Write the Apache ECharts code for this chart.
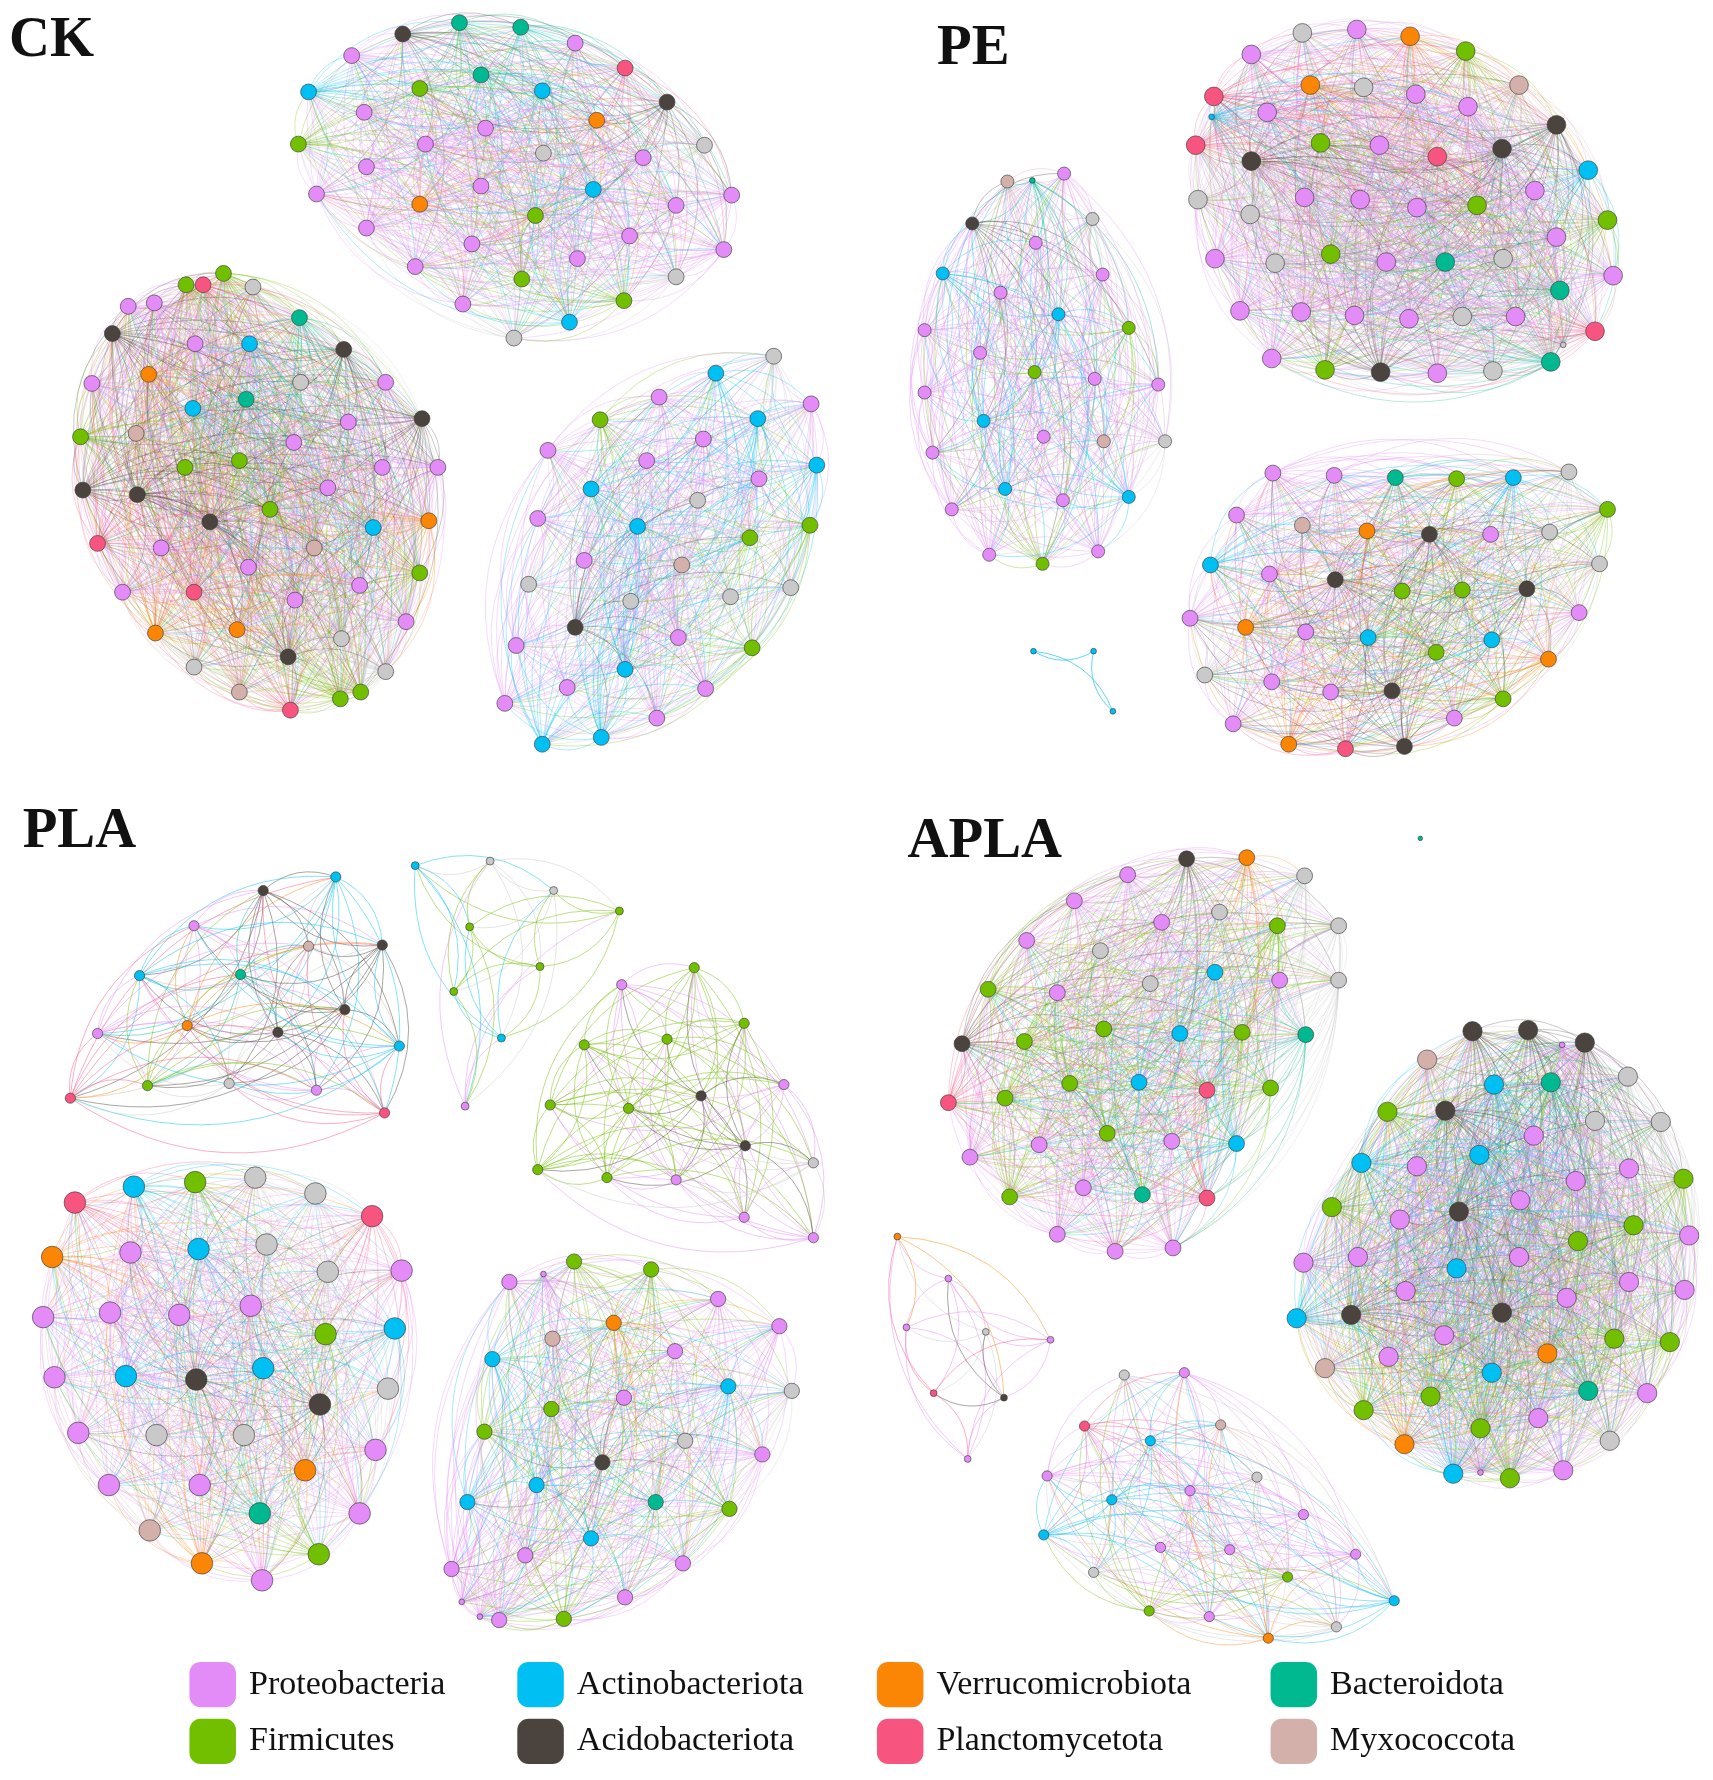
<!DOCTYPE html>
<html><head><meta charset="utf-8">
<script src="https://cdn.jsdelivr.net/npm/echarts@6/dist/echarts.min.js"></script>
<style>html,body{margin:0;padding:0;background:#fff}#c{width:1713px;height:1780px}</style>
</head><body><div id="c"></div><script>
// Phylum categories and legend
const phyla = ['Proteobacteria','Actinobacteriota','Verrucomicrobiota','Bacteroidota','Firmicutes','Acidobacteriota','Planctomycetota','Myxococcota','Other'];
const phylumCodes = ['P','A','V','B','F','D','L','M','G'];
const phylumColors = ['#e38bf7','#00bff3','#fb8505','#00b990','#72bf00','#4b443e','#f7547f','#d3b0aa','#c9c9c9'];
const panelLabels = ['CK','PE','PLA','APLA'];
const legendColumns = [['Proteobacteria','Firmicutes'],['Actinobacteriota','Acidobacteriota'],['Verrucomicrobiota','Planctomycetota'],['Bacteroidota','Myxococcota']];

// Node layouts (x, y in reference figure units, phylum code, optional 's' = minor node)
const ckTop = [[355,30,'D'],[405,20,'B'],[459,24,'B'],[507,38,'P'],[551,60,'L'],[310,49,'P'],[272,81,'A'],[370,78,'F'],[424,66,'B'],[478,80,'A'],[588,90,'D'],[321,99,'P'],[526,106,'V'],[263,127,'F'],[375,127,'P'],[428,113,'P'],[479,135,'G'],[621,128,'G'],[567,139,'P'],[323,147,'P'],[279,171,'P'],[424,164,'P'],[523,167,'A'],[370,180,'V'],[645,172,'P'],[596,181,'P'],[472,190,'F'],[323,201,'P'],[416,215,'P'],[555,208,'P'],[638,220,'P'],[509,228,'P'],[366,235,'P'],[460,246,'F'],[596,244,'G'],[408,268,'P'],[550,265,'F'],[502,284,'A'],[453,298,'G']];
const ckLeft = [[197,241,'F'],[164,251,'F'],[179,251,'L'],[223,253,'G'],[113,270,'P'],[136,267,'P'],[264,280,'B'],[99,294,'D'],[172,303,'P'],[220,303,'A'],[303,308,'D'],[131,330,'V'],[265,337,'G'],[81,338,'P'],[340,337,'P'],[217,352,'B'],[170,360,'A'],[372,369,'D'],[307,372,'P'],[120,382,'M'],[71,385,'F'],[259,390,'P'],[211,406,'F'],[163,412,'F'],[337,412,'P'],[386,412,'P'],[289,430,'P'],[73,432,'D'],[121,436,'D'],[238,449,'F'],[185,460,'D'],[329,465,'A'],[378,459,'V'],[86,479,'L'],[142,483,'P'],[277,483,'M'],[219,500,'P'],[370,505,'F'],[108,522,'P'],[171,522,'L'],[317,516,'P'],[260,529,'P'],[358,548,'P'],[137,558,'V'],[209,555,'V'],[301,563,'G'],[254,579,'D'],[171,588,'G'],[340,592,'G'],[211,610,'M'],[300,616,'F'],[318,610,'F'],[256,626,'L']];
const ckRight = [[682,314,'G'],[631,329,'A'],[581,350,'P'],[715,356,'P'],[668,369,'A'],[529,370,'F'],[620,387,'P'],[483,397,'P'],[570,406,'P'],[720,410,'A'],[669,422,'P'],[521,431,'A'],[615,441,'G'],[474,457,'P'],[562,464,'A'],[714,463,'F'],[661,474,'F'],[515,494,'P'],[601,498,'M'],[466,515,'G'],[556,530,'G'],[644,526,'G'],[697,518,'G'],[507,553,'D'],[455,569,'P'],[598,562,'P'],[663,571,'F'],[551,590,'A'],[500,606,'P'],[622,607,'P'],[445,620,'P'],[579,633,'P'],[478,656,'A'],[530,650,'A']];
const peLeft = [[888,160,'M'],[910,159,'B','s'],[938,153,'P'],[857,197,'D'],[963,193,'G'],[913,214,'P'],[831,241,'A'],[972,242,'P'],[882,258,'P'],[933,277,'A'],[815,291,'P'],[995,289,'F'],[864,311,'P'],[912,328,'F'],[965,334,'P'],[1021,339,'P'],[815,346,'P'],[867,371,'A'],[920,385,'P'],[973,389,'M'],[1027,389,'G'],[822,399,'P'],[886,431,'A'],[937,441,'P'],[995,438,'A'],[839,449,'P'],[872,489,'P'],[919,497,'F'],[968,486,'P']];
const peTiny = [[911,574,'A','s'],[964,574,'A','s'],[981,627,'A','s']];
const peTopRight = [[1148,29,'G'],[1196,26,'P'],[1243,32,'V'],[1292,45,'F'],[1103,48,'P'],[1155,75,'V'],[1202,77,'G'],[1248,83,'P'],[1339,75,'M'],[1070,85,'L'],[1117,99,'P'],[1294,94,'P'],[1068,103,'A','s'],[1372,110,'D'],[1054,128,'L'],[1164,126,'F'],[1216,128,'P'],[1267,138,'L'],[1324,131,'D'],[1103,142,'D'],[1400,150,'A'],[1056,176,'G'],[1150,174,'P'],[1199,176,'P'],[1249,183,'P'],[1302,181,'F'],[1353,168,'P'],[1102,189,'G'],[1417,194,'F'],[1372,209,'P'],[1071,228,'P'],[1124,232,'G'],[1173,224,'F'],[1222,231,'P'],[1274,231,'B'],[1325,228,'G'],[1422,243,'P'],[1375,256,'B'],[1093,274,'P'],[1147,275,'P'],[1194,278,'P'],[1242,281,'P'],[1289,279,'G'],[1336,279,'P'],[1406,292,'L'],[1378,304,'G','s'],[1121,316,'P'],[1168,326,'F'],[1217,328,'D'],[1267,329,'P'],[1316,327,'G'],[1367,319,'B']];
const peBottomRight = [[1122,417,'P'],[1176,419,'P'],[1230,421,'B'],[1284,422,'F'],[1334,421,'A'],[1383,416,'G'],[1417,449,'F'],[1090,454,'P'],[1148,463,'M'],[1205,468,'V'],[1260,471,'D'],[1314,471,'P'],[1366,469,'G'],[1067,498,'A'],[1410,497,'G'],[1119,506,'P'],[1177,511,'D'],[1236,521,'F'],[1289,520,'F'],[1346,519,'D'],[1049,545,'P'],[1392,540,'P'],[1098,553,'V'],[1151,557,'P'],[1206,562,'A'],[1315,564,'A'],[1266,575,'F'],[1365,581,'V'],[1062,595,'G'],[1121,601,'P'],[1173,610,'P'],[1227,609,'D'],[1325,616,'F'],[1087,638,'P'],[1282,633,'P'],[1136,656,'V'],[1186,660,'L'],[1238,658,'D']];
const plaTopLeft = [[296,773,'A'],[232,785,'D'],[171,816,'P'],[272,834,'M'],[337,833,'D'],[123,860,'A'],[212,859,'B'],[304,890,'D'],[86,911,'P'],[165,904,'V'],[245,910,'D'],[352,922,'A'],[130,957,'F'],[202,955,'G'],[279,961,'P'],[62,968,'L'],[339,981,'L']];
const plaTiny = [[366,763,'A'],[432,759,'G'],[488,785,'G'],[546,803,'F'],[414,817,'F'],[476,852,'F'],[400,874,'F'],[442,915,'A'],[410,975,'P']];
const plaRight = [[612,853,'F'],[548,868,'P'],[656,902,'F'],[588,916,'F'],[515,921,'F'],[691,956,'P'],[618,966,'D'],[485,974,'F'],[554,977,'F'],[657,1010,'D'],[474,1031,'F'],[535,1038,'F'],[596,1040,'P'],[717,1025,'G'],[656,1073,'P'],[717,1091,'P']];
const plaBig = [[66,1060,'L'],[118,1046,'A'],[172,1042,'F'],[225,1038,'G'],[278,1052,'G'],[328,1072,'L'],[46,1108,'V'],[115,1104,'P'],[175,1101,'A'],[235,1097,'G'],[289,1121,'G'],[354,1120,'P'],[38,1161,'P'],[97,1157,'P'],[158,1159,'P'],[221,1151,'P'],[287,1176,'F'],[348,1171,'A'],[48,1214,'P'],[111,1213,'A'],[173,1216,'D'],[232,1206,'A'],[282,1238,'D'],[342,1224,'G'],[69,1263,'P'],[138,1265,'G'],[215,1265,'G'],[331,1278,'P'],[269,1296,'V'],[96,1309,'P'],[176,1309,'P'],[229,1334,'B'],[317,1334,'P'],[132,1349,'M'],[178,1378,'V'],[281,1370,'F'],[231,1393,'P']];
const plaBottomRight = [[506,1112,'F'],[574,1119,'F'],[449,1130,'P'],[479,1123,'P','s'],[633,1145,'P'],[687,1169,'P'],[541,1166,'V'],[487,1180,'M'],[595,1191,'P'],[434,1198,'A'],[642,1222,'A'],[698,1226,'G'],[550,1232,'P'],[486,1242,'F'],[427,1262,'F'],[604,1270,'G'],[672,1282,'P'],[531,1289,'D'],[473,1309,'A'],[412,1324,'A'],[578,1324,'B'],[643,1330,'F'],[521,1356,'A'],[463,1371,'P'],[602,1378,'P'],[398,1383,'P'],[551,1408,'P'],[440,1428,'P'],[497,1427,'F'],[407,1412,'P','s'],[423,1425,'P','s']];
const aplaTopLeft = [[1046,757,'D'],[1099,756,'V'],[994,771,'P'],[1150,772,'G'],[947,794,'P'],[1075,804,'G'],[1024,813,'P'],[1126,816,'F'],[1180,816,'G'],[905,829,'P'],[970,838,'G'],[1071,857,'A'],[1014,867,'G'],[1128,864,'P'],[1180,864,'G'],[871,872,'F'],[932,875,'P'],[848,920,'D'],[903,918,'F'],[973,907,'F'],[1040,911,'A'],[1095,910,'F'],[1151,912,'B'],[943,955,'F'],[1004,954,'A'],[1064,961,'L'],[1120,959,'F'],[836,972,'L'],[886,968,'F'],[976,999,'F'],[916,1009,'P'],[1033,1006,'P'],[1090,1008,'A'],[855,1020,'P'],[955,1047,'P'],[1007,1053,'B'],[1064,1056,'L'],[890,1055,'F'],[932,1088,'P'],[983,1103,'P'],[1034,1100,'P']];
const aplaLone = [[1252,739,'B','s']];
const aplaSmall = [[791,1090,'V'],[836,1127,'P'],[799,1170,'P'],[869,1174,'G'],[926,1181,'P'],[823,1228,'L'],[885,1232,'D'],[853,1286,'P']];
const aplaRight = [[1298,909,'D'],[1347,908,'D'],[1397,919,'D'],[1377,921,'P','s'],[1258,934,'M'],[1435,949,'G'],[1317,956,'A'],[1367,954,'B'],[1223,980,'F'],[1274,979,'D'],[1406,988,'G'],[1464,989,'G'],[1352,1001,'P'],[1200,1025,'A'],[1249,1028,'P'],[1304,1018,'A'],[1436,1030,'P'],[1389,1041,'P'],[1484,1039,'F'],[1340,1058,'P'],[1174,1064,'F'],[1234,1075,'P'],[1286,1068,'D'],[1440,1080,'F'],[1391,1094,'F'],[1489,1089,'P'],[1149,1113,'P'],[1197,1108,'P'],[1284,1118,'A'],[1339,1108,'P'],[1239,1138,'P'],[1381,1144,'P'],[1436,1130,'P'],[1485,1137,'P'],[1143,1162,'A'],[1191,1159,'D'],[1324,1157,'D'],[1273,1177,'P'],[1423,1180,'F'],[1472,1183,'F'],[1224,1196,'P'],[1364,1193,'V'],[1168,1206,'M'],[1315,1210,'A'],[1400,1226,'B'],[1452,1228,'P'],[1261,1231,'F'],[1202,1243,'F'],[1305,1259,'F'],[1356,1250,'P'],[1419,1270,'G'],[1238,1273,'V'],[1281,1299,'A'],[1305,1298,'P','s'],[1331,1303,'F'],[1378,1296,'P']];
const aplaBottom = [[991,1212,'G'],[1044,1210,'P'],[956,1257,'L'],[1076,1256,'M'],[1014,1270,'A'],[923,1301,'P'],[1108,1302,'G'],[1049,1314,'P'],[980,1322,'A'],[1149,1335,'P'],[920,1353,'A'],[1023,1364,'P'],[1084,1366,'P'],[1195,1370,'P'],[964,1386,'G'],[1135,1390,'F'],[1229,1411,'A'],[1013,1420,'F'],[1066,1425,'P'],[1178,1434,'G'],[1118,1444,'V']];

// Rendering settings per module (styles kept separate from data)
const S = 1713/1510;
const modules = [
  {nodes: ckTop, size: 14, op: 0.38},
  {nodes: ckLeft, size: 14, op: 0.36},
  {nodes: ckRight, size: 14, op: 0.4},
  {nodes: peLeft, size: 11.5, op: 0.45},
  {nodes: peTiny, size: 5, op: 0.8},
  {nodes: peTopRight, size: 16.5, op: 0.36},
  {nodes: peBottomRight, size: 14, op: 0.4},
  {nodes: plaTopLeft, size: 9, op: 0.6},
  {nodes: plaTiny, size: 7, op: 0.6},
  {nodes: plaRight, size: 9, op: 0.6},
  {nodes: plaBig, size: 19, op: 0.38},
  {nodes: plaBottomRight, size: 13.5, op: 0.42},
  {nodes: aplaTopLeft, size: 14, op: 0.38},
  {nodes: aplaLone, size: 4, op: 0.5},
  {nodes: aplaSmall, size: 6, op: 0.6},
  {nodes: aplaRight, size: 17, op: 0.36},
  {nodes: aplaBottom, size: 9, op: 0.5}
];

const categories = phyla.map((n, i) => ({name: n, itemStyle: {color: phylumColors[i]}}));

const series = modules.map(m => {
  const nodes = m.nodes;
  const data = nodes.map(n => ({
    value: [n[0], n[1]],
    category: phylumCodes.indexOf(n[2]),
    symbolSize: (n[3] === 's' ? Math.min(5, m.size) : m.size) * S
  }));
  const links = [];
  for (let i = 0; i < nodes.length; i++)
    for (let j = i + 1; j < nodes.length; j++) {
      // alternate the drawing direction so arcs bow to both sides
      if ((i + j) % 2 === 0) links.push({source: i, target: j});
      else links.push({source: j, target: i});
    }
  return {
    type: 'graph', coordinateSystem: 'cartesian2d', layout: 'none',
    data, links, categories,
    itemStyle: {borderColor: 'rgba(60,60,60,0.8)', borderWidth: 0.8},
    lineStyle: {color: 'source', width: 0.8, opacity: m.op, curveness: 0.3},
    emphasis: {disabled: true}, label: {show: false}, silent: true
  };
});

const colLeft = [167, 456, 773, 1120];
const legends = legendColumns.map((col, k) => ({
  orient: 'vertical', left: colLeft[k] * S, top: 1465 * S, padding: 0,
  itemWidth: 41 * S, itemHeight: 40 * S, itemGap: 10 * S,
  selectedMode: false, icon: 'roundRect',
  itemStyle: {borderWidth: 0},
  textStyle: {fontFamily: 'Liberation Serif', fontSize: 30 * S, color: '#111', padding: [0, 0, 0, 8]},
  data: col
}));

const titlePos = [[8, 11], [826, 18], [20, 709], [800, 717]];
const titles = panelLabels.map((t, k) => ({
  text: t, left: titlePos[k][0] * S, top: titlePos[k][1] * S, padding: 0,
  textStyle: {fontFamily: 'Liberation Serif', fontWeight: 'bold', fontSize: 50 * S, color: '#111'}
}));

const chart = echarts.init(document.getElementById('c'), null, {renderer: 'canvas'});
chart.setOption({
  animation: false,
  backgroundColor: '#fff',
  title: titles,
  legend: legends,
  grid: {left: 0, right: 0, top: 0, bottom: 0},
  xAxis: {type: 'value', min: 0, max: 1510, show: false},
  yAxis: {type: 'value', min: 0, max: 1569, inverse: true, show: false},
  series
});
</script></body></html>
